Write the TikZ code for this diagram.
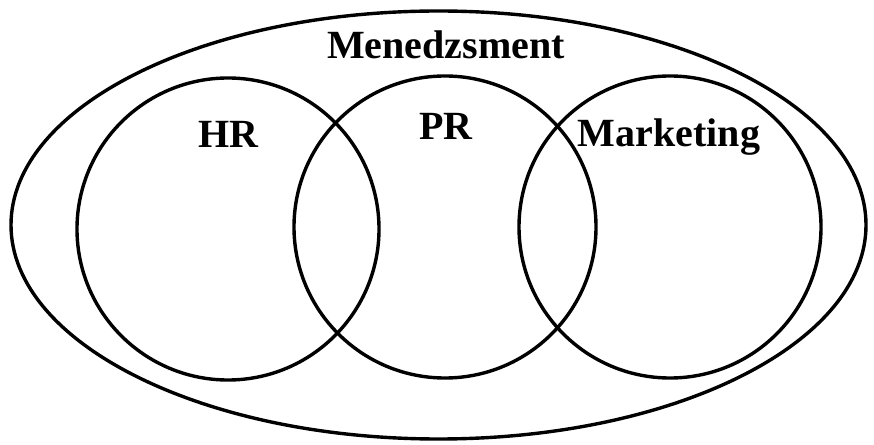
\documentclass[tikz,border=0pt]{standalone}
\usepackage{fontspec}
\setmainfont{Liberation Serif}
\usepackage{tikz}
\usetikzlibrary{shapes.geometric}

\begin{document}
\begin{tikzpicture}[x=1pt,y=1pt,line width=3.4pt,
  set node/.style={circle,draw,inner sep=0pt,minimum size=302pt},
  outer node/.style={ellipse,draw,inner sep=0pt,minimum width=855pt,minimum height=428pt},
  label node/.style={anchor=base,inner sep=0pt,font=\fontsize{40}{44}\selectfont\bfseries}]
  \useasboundingbox (0,0) rectangle (874,444);
  \node[outer node] (man) at (438.5,219) {};
  \node[set node] (hr) at (228,215) {};
  \node[set node] (pr) at (445,217) {};
  \node[set node] (mk) at (670,217) {};

  \node[label node] (manl) at (446,385) {Menedzsment};
  \node[label node] (hrl) at (228,296) {HR};
  \node[label node] (prl) at (446,304) {PR};
  \node[label node] (mkl) at (669,297) {Marketing};
\end{tikzpicture}
\end{document}
